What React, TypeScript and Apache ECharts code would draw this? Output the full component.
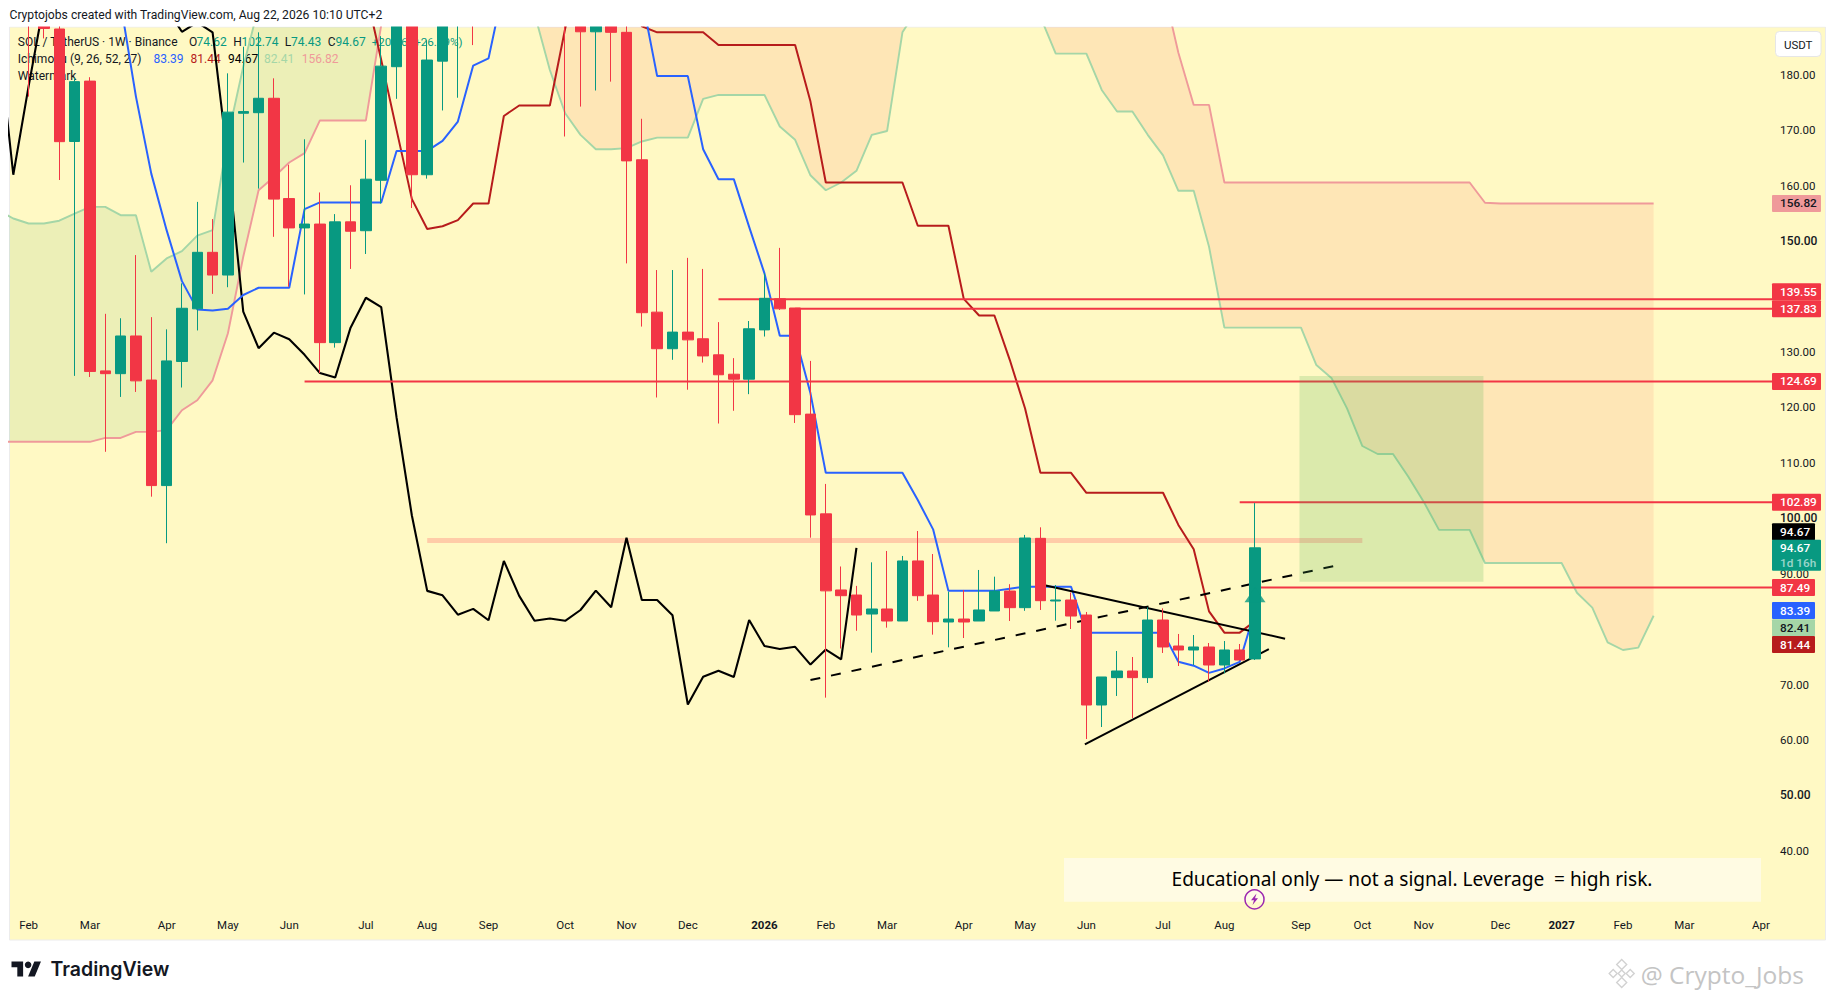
import React, { useEffect, useRef } from "react";
import * as echarts from "echarts";

// ---------- data (x = week index, 0 = 27 Jan 2025, last candle = 81) ----------
const candleOpen = [210,195,195,188.3,168,178.9,126.6,126.1,132.9,124.95,105.9,128.3,137.8,148,143.9,173.1,173.2,175.8,157.7,152.4,153.1,131.7,153.5,151.9,161,181.5,195,162,182.5,193,198,191,200,205,210,207,200,192,187.8,189.5,187.7,164.7,137.2,130.6,133.6,132.4,129.5,126,125.1,134,139.6,137.95,118.8,100.8,87.06,86.15,82.72,83.63,81.46,92.3,86.15,81.28,81.82,81.46,83.27,86.87,83.87,96.38,85.07,85.25,82.54,66.3,71.24,72.44,71.24,81.64,76.95,76.23,76.77,73.52,76.23,74.62];
const candleClose = [195,189.5,188.4,167.97,178.8,126.5,126.1,132.9,124.8,105.9,128.4,137.9,148,143.9,173.3,173.4,175.8,157.6,152.4,153.1,131.7,153.5,151.8,161.2,181.6,195,162,182.7,193,198,191,200,205,210,207,200,192,187.8,189.5,187.7,164.5,137.1,130.6,133.6,132.2,129.3,125.9,125.1,134.2,139.7,137.8,118.7,100.6,86.9,86.03,82.54,83.63,81.46,92.3,86.03,81.34,81.82,81.28,83.45,86.87,83.87,96.44,85.13,85.25,82.36,66.3,71.36,72.44,71.24,81.64,76.77,76.23,76.77,73.52,76.23,74.42,94.67];
const candleLow = [190,176.1,186.6,161.05,125.7,125.5,112,121.9,122.8,103.9,95.5,123.6,133.9,140.5,141.7,164.2,159.5,150.8,141.8,140.4,126.2,130.8,145,147.7,156.8,175.7,156,161.3,173.6,175.9,185.4,189,192,198,200,192,168.9,174.3,177.2,178.8,146,134.6,121.8,128.6,123.2,128.1,117.1,119.4,122.4,132.8,137.6,117.2,96.5,67.63,76.5,79.7,75.75,80.26,81.46,85.1,79,76.71,78.39,81.46,83.27,81.46,83.3,83.45,81.52,80.02,60.16,62.33,67.93,63.96,70.27,75.69,73.34,73.52,70.51,72.02,74.42,74.43];
const candleHigh = [215,198,200,190,179.5,179.6,136.9,136.1,147.5,136.3,134.1,142.4,157.1,154,180.3,185.1,187.7,179.4,163.8,168.4,158.8,154.9,160.1,168.3,187,200,200,186.3,198,203,205,207,212,218,220,215,205,195,192,190,190,172.1,144.8,144.8,147,145,135.4,128.9,135.6,144.2,148.8,137.95,128.4,106.2,91.3,87.8,92.05,94.1,93.2,97.7,93.55,86.75,87.06,90.67,89.46,88.1,97,98.37,87.96,86.6,83.09,71.36,76.05,74.96,83.93,83.75,79.12,78.93,77.49,77.85,77.31,102.74];

const tenkanStart = 6;
const tenkanValues = [205,193,176.1,162.2,152,142.8,137.7,137.5,137.8,140.3,141.6,141.6,141.6,155.8,157,157,157,157,157,166.3,166.3,166.3,168.1,171.6,181.7,183,196,205,210,215,218,218,218,210,198,194,179.8,179.8,179.8,166.6,161.2,161.2,152.6,144.2,132.95,132.95,122.55,108.2,108.2,108.2,108.2,108.2,108.2,103.3,98,86.9,86.9,86.9,86.9,87.3,87.65,87.65,87.65,87.65,79.36,79.36,79.36,79.36,79.36,79.36,74.1,73.4,72.1,72.9,74.1,83.39];

const kijunStart = 22;
const kijunValues = [205,195,182.7,170.1,157.6,152.2,152.7,153.8,156.8,156.8,172.6,174.5,174.5,174.5,188.4,200,205,200,196,188.8,187.7,187.7,187.7,187.7,185.4,185.4,185.4,185.4,185.4,185.4,175.2,160.6,160.6,160.6,160.6,160.6,160.6,152.8,152.8,152.8,139.6,136.6,136.6,128.6,119.8,108.2,108.2,108.2,104.6,104.6,104.6,104.6,104.6,104.6,98.8,94.4,83.2,79.36,79.36,81.44];

const lagStart = -1;
const lagValues = [187.5,162,178,193,198,191,200,205,210,207,200,192,187.8,189.5,187.7,164.5,137.3,130.7,133.5,132.3,129.5,126.2,125.4,134.4,139.8,138.1,118.2,100.5,86.9,86.1,82.6,83.65,81.6,92.3,86,81.5,81.9,81.5,83.45,86.95,83.93,96.5,85.25,85.25,82.5,66.4,71.4,72.5,71.35,81.64,76.95,76.4,76.8,73.6,76.3,74.55,94.67];

const leadStart = -1;
const leadAValues = [155.6,154.1,153.2,153.2,153.7,155,156.2,156.2,154.7,154.7,144.5,146.9,148.2,151,152,168.9,181.5,192.3,200,205,205,205,205,205,205,205,205,203,200,200,200,200,200,198,196,191.1,180.9,173.1,169.2,166.6,166.6,166.8,168,168.7,168.7,168.7,175.7,176.4,176.4,176.4,176.4,170.7,168.3,161.9,159.2,160.6,162.7,169.2,169.9,187.7,192,200,200,200,200,200,200,197,190.5,183.85,183.85,183.85,177.3,173.4,173.4,169.2,165.5,159.1,159.1,149,134.4,134.4,134.4,134.4,134.4,134.4,127.66,125.26,119.84,113.04,111.6,111.6,107.5,103,97.9,97.9,97.9,91.93,91.93,91.93,91.93,91.93,91.93,86.57,83.87,77.61,76.23,76.65,82.41];
const leadBValues = [113.8,113.8,113.8,113.8,113.8,113.8,113.8,114.5,114.5,115.6,115.6,115.9,119.5,121.3,124.9,133.4,147.2,159.2,161.6,164.2,165.9,171.8,171.8,171.8,171.8,189,195,198,200,202,205,205,215,215,215,215,215,215,215,215,215,215,215,215,215,215,215,215,215,215,215,215,215,215,215,215,215,215,215,215,215,215,215,215,215,215,215,215,215,215,215,215,215,215,215,215,196,184,174.6,174.6,160.6,160.6,160.6,160.6,160.6,160.6,160.6,160.6,160.6,160.6,160.6,160.6,160.6,160.6,160.6,160.6,160.6,156.95,156.82,156.82,156.82,156.82,156.82,156.82,156.82,156.82,156.82,156.82,156.82];

// horizontal levels: [first week index, price]
const levelStarts = [46, 51, 19, 80, 81];
const levelPrices = [139.55, 137.83, 124.69, 102.89, 87.49];
const zoneLine = [[27, 96], [88, 96]];
const boxCorners = [83.9, 125.7, 95.9, 88.55];
const fallingTrend = [[67.2, 87.96], [82.96, 78.27]];
const risingTrend = [[69.9, 59.2], [81.9, 76.4]];
const dashedTrend = [[52, 70.8], [86.1, 91.35]];
const arrowPoint = [81, 86.2];

const monthTickIndex = [1,5,10,14,18,23,27,31,36,40,44,49,53,57,62,66,70,75,79,84,88,92,97,101,105,109,114];
const monthTickLabels = ["Feb","Mar","Apr","May","Jun","Jul","Aug","Sep","Oct","Nov","Dec","2026","Feb","Mar","Apr","May","Jun","Jul","Aug","Sep","Oct","Nov","Dec","2027","Feb","Mar","Apr"];
const coveredTicks = [140, 80];

const pillPrices = [156.82, 139.55, 137.83, 124.69, 102.89, 94.67, 94.67, 87.49, 83.39, 82.41, 81.44];
const pillTexts = ["156.82", "139.55", "137.83", "124.69", "102.89", "94.67", "94.67", "87.49", "83.39", "82.41", "81.44"];

// ---------- styles ----------
const FONT = "Roboto, sans-serif";
const INK = "#131722";
const UP = "#089981";
const DOWN = "#F23645";
const BLUE = "#2962FF";
const MAROON = "#B71C1C";
const LEAD_A = "#A5D6A7";
const LEAD_B = "#EF9A9A";
const PANE = "#FFF9C4";
const pillStyle = [
  { bg: LEAD_B, fg: INK, w: 49, dy: 0 },
  { bg: DOWN, fg: "#fff", w: 49, dy: -7.3 },
  { bg: DOWN, fg: "#fff", w: 49, dy: 0 },
  { bg: DOWN, fg: "#fff", w: 49, dy: 0 },
  { bg: DOWN, fg: "#fff", w: 49, dy: 0 },
  { bg: "#000", fg: "#fff", w: 43, dy: -16.1 },
  { bg: UP, fg: "#fff", w: 49, dy: 0.5 },
  { bg: DOWN, fg: "#fff", w: 43, dy: 0 },
  { bg: BLUE, fg: "#fff", w: 43, dy: 0.3 },
  { bg: LEAD_A, fg: INK, w: 43, dy: 12 },
  { bg: MAROON, fg: "#fff", w: 43, dy: 23.4 },
];

const GRID = { left: 9.5, right: 1771, top: 27, bottom: 906.15 };
const X_ZERO = 13.3;
const X_STEP = 15.33;
const xMin = (GRID.left - X_ZERO) / X_STEP;
const xMax = (GRID.right - X_ZERO) / X_STEP;
const yMin = 30;
const yMax = 188.663;

const pairs = (start: number, values: number[]) => values.map((v, k) => [start + k, v]);

// Splits the two lead lines into runs of one colour, with a closed outline per run.
function cloudRuns() {
  const runs: { up: boolean; pts: number[][] }[] = [];
  let upper: number[][] = [];
  let lower: number[][] = [];
  let up = leadAValues[0] >= leadBValues[0];
  const flush = () => {
    runs.push({ up, pts: [...upper, ...lower.slice().reverse()] });
    upper = [];
    lower = [];
  };
  for (let k = 0; k < leadAValues.length; k++) {
    const x = leadStart + k;
    const a = leadAValues[k];
    const b = leadBValues[k];
    const nowUp = a >= b;
    if (nowUp !== up) {
      const a0 = leadAValues[k - 1];
      const b0 = leadBValues[k - 1];
      const t = (b0 - a0) / (a - a0 - (b - b0));
      const cx = x - 1 + t;
      const cy = a0 + (a - a0) * t;
      upper.push([cx, cy]);
      lower.push([cx, cy]);
      flush();
      up = nowUp;
      upper.push([cx, cy]);
      lower.push([cx, cy]);
    }
    upper.push([x, a]);
    lower.push([x, b]);
  }
  flush();
  return runs;
}

const lineSeries = (data: number[][], color: string, width: number, extra: any = {}) => ({
  type: "line",
  data,
  symbol: "none",
  showSymbol: false,
  silent: true,
  z: 2,
  lineStyle: { color, width, ...(extra.lineStyle || {}) },
});

function txt(text: string, x: number, y: number, fill: string, z: number, font = `12px ${FONT}`, align = "left") {
  return { type: "text", x, y, z, silent: true, style: { text, fill, font, textAlign: align, textVerticalAlign: "middle" } };
}

function staticGraphics() {
  const els: any[] = [
    { type: "rect", z: 0, silent: true, shape: { x: 9.5, y: 27, width: 1816, height: 913 }, style: { fill: PANE, stroke: "#ECECEC", lineWidth: 1 } },
    // white header band: hides the parts of tall candles above the pane
    { type: "rect", z: 20, silent: true, shape: { x: 0, y: 0, width: 1835, height: 26.5 }, style: { fill: "#fff" } },
    txt("Cryptojobs created with TradingView.com, Aug 22, 2026 10:10 UTC+2", 9.5, 15, INK, 50, `12.15px ${FONT}`),
    // legend, underneath the candles
    txt("SOL / TetherUS · 1W · Binance", 17.8, 42, INK, 1.5),
    txt("O", 189, 42, INK, 1.5), txt("74.62", 196.5, 42, UP, 1.5),
    txt("H", 233.3, 42, INK, 1.5), txt("102.74", 241.5, 42, UP, 1.5),
    txt("L", 284.7, 42, INK, 1.5), txt("74.43", 291, 42, UP, 1.5),
    txt("C", 327.8, 42, INK, 1.5), txt("94.67", 335.5, 42, UP, 1.5),
    txt("+20.06 (+26.89%)", 371.7, 42, UP, 1.5, `11.6px ${FONT}`),
    txt("Ichimoku (9, 26, 52, 27)", 17.8, 59, INK, 1.5),
    txt("83.39", 153.4, 59, BLUE, 1.5),
    txt("81.44", 190.6, 59, MAROON, 1.5),
    txt("94.67", 228, 59, "#000", 1.5),
    txt("82.41", 264, 59, LEAD_A, 1.5),
    txt("156.82", 301.7, 59, LEAD_B, 1.5),
    txt("Watermark", 17.8, 76, INK, 1.5),
    // currency button
    { type: "rect", z: 50, silent: true, shape: { x: 1775.5, y: 31.5, width: 45.5, height: 25, r: 4 }, style: { fill: "#fff", stroke: "#E6E6E6", lineWidth: 1 } },
    txt("USDT", 1798.2, 44.5, INK, 51, `11.5px ${FONT}`, "center"),
    // disclaimer box
    { type: "rect", z: 40, silent: true, shape: { x: 1064, y: 858, width: 697, height: 43.7 }, style: { fill: "#FFFBE3" } },
    txt("Educational only — not a signal. Leverage  = high risk.", 1412, 879, "#000", 41, '19.1px "Noto Sans", sans-serif', "center"),
    // lightning badge
    { type: "circle", z: 42, silent: true, shape: { cx: 1254.5, cy: 899.3, r: 9.5 }, style: { fill: "rgba(255,255,255,0.15)", stroke: "#9C27B0", lineWidth: 1.5 } },
    { type: "polygon", z: 43, silent: true, shape: { points: [[1256.5, 893.5], [1251, 900.3], [1254, 900.3], [1252.5, 905], [1258, 898.3], [1255, 898.3]] }, style: { fill: "#9C27B0" } },
    // footer logo
    { type: "tvMark", z: 50, silent: true, x: 11.5, y: 958.2, scaleX: 0.83, scaleY: 0.83, style: { fill: "#131722" } },
    { type: "circle", z: 50, silent: true, shape: { cx: 28.1, cy: 964.8, r: 3.3 }, style: { fill: "#131722" } },
    txt("TradingView", 50.5, 968.5, "#131722", 50, "600 19.5px Inter, sans-serif"),
    // watermark
    txt("@ Crypto_Jobs", 1640.7, 974, "#C4C4C4", 50, '24.5px "Open Sans", sans-serif'),
  ];
  const c = [1621.7, 973.5];
  const diamonds = [[0, -9, 5], [-8.5, 0, 4], [8.5, 0, 4], [0, 9, 5], [0, 0, 3.5]];
  diamonds.forEach(([dx, dy, r]) => {
    const cx = c[0] + dx;
    const cy = c[1] + dy;
    els.push({ type: "polygon", z: 50, silent: true, shape: { points: [[cx, cy - r], [cx + r, cy], [cx, cy + r], [cx - r, cy]] }, style: { fill: "#fff", stroke: "#D2D2D2", lineWidth: 1.4 } });
  });
  return els;
}

function pillGraphics(chart: any) {
  const els: any[] = [];
  pillPrices.forEach((price, k) => {
    const st = pillStyle[k];
    const cy = chart.convertToPixel({ yAxisIndex: 0 }, price) + st.dy;
    const isCountdown = k === 6;
    els.push({ type: "rect", z: 60, silent: true, shape: { x: 1772, y: cy - 8.5, width: st.w, height: isCountdown ? 31 : 17, r: 1 }, style: { fill: st.bg } });
    els.push(txt(pillTexts[k], 1780, cy, st.fg, 61, `500 11.8px ${FONT}`));
    if (isCountdown) els.push(txt("1d 16h", 1780, cy + 14.5, "rgba(255,255,255,0.6)", 61, `500 11.8px ${FONT}`));
  });
  return els;
}

export default function App() {
  const ref = useRef<HTMLDivElement>(null);
  useEffect(() => {
    if (!ref.current) return;
    echarts.graphic.registerShape("tvMark", echarts.graphic.extendPath("M14 22H7V11H0V4h14v18zM28 22h-8l7.5-18h8L28 22z", {}));
    const chart = echarts.init(ref.current, undefined, { renderer: "svg" });
    const runs = cloudRuns();
    const candles = candleOpen.map((o, i) => [i, o, candleClose[i], candleLow[i], candleHigh[i]]);
    const rightEnd = Math.ceil(xMax) + 1;
    const option: any = {
      animation: false,
      backgroundColor: "#fff",
      grid: { left: GRID.left, top: GRID.top, right: 1835 - GRID.right, bottom: 1000 - GRID.bottom, containLabel: false },
      xAxis: {
        type: "value",
        min: xMin,
        max: xMax,
        splitLine: { show: false },
        axisLine: { show: false },
        axisTick: { show: false },
        axisLabel: {
          customValues: monthTickIndex,
          margin: 13,
          color: INK,
          fontFamily: FONT,
          fontSize: 11.5,
          formatter: (v: number) => {
            const l = monthTickLabels[monthTickIndex.indexOf(v)] ?? "";
            return /^\d+$/.test(l) ? `{y|${l}}` : l;
          },
          rich: { y: { fontFamily: FONT, fontSize: 11.5, fontWeight: 700, color: INK } },
        },
      },
      yAxis: {
        type: "value",
        position: "right",
        min: yMin,
        max: yMax,
        interval: 10,
        splitLine: { show: false },
        axisLine: { show: false },
        axisTick: { show: false },
        axisLabel: {
          margin: 9,
          showMinLabel: false,
          showMaxLabel: false,
          color: INK,
          fontFamily: FONT,
          fontSize: 11.5,
          formatter: (v: number) => (coveredTicks.includes(v) ? "" : v % 50 === 0 ? `{m|${v.toFixed(2)}}` : v.toFixed(2)),
          rich: { m: { fontFamily: FONT, fontSize: 12, fontWeight: 500, color: INK } },
        },
      },
      series: [
        {
          type: "custom",
          z: 1,
          silent: true,
          clip: true,
          data: runs.map((r, k) => [r.pts[0][0], r.pts[0][1], k]),
          encode: { x: 0, y: 1 },
          renderItem: (params: any, api: any) => {
            const run = runs[params.dataIndex];
            return {
              type: "polygon",
              shape: { points: run.pts.map((p) => api.coord(p)) },
              style: { fill: run.up ? "rgba(67,160,71,0.1)" : "rgba(244,67,54,0.1)" },
            };
          },
        },
        lineSeries(pairs(leadStart, leadAValues), LEAD_A, 1.9),
        lineSeries(pairs(leadStart, leadBValues), LEAD_B, 1.9),
        lineSeries(zoneLine, "#FFCCA8", 5),
        lineSeries(pairs(lagStart, lagValues), "#000000", 2.1),
        lineSeries(pairs(kijunStart, kijunValues), MAROON, 2),
        lineSeries(pairs(tenkanStart, tenkanValues), BLUE, 2),
        ...levelPrices.map((p, k) => lineSeries([[levelStarts[k], p], [rightEnd, p]], DOWN, 2)),
        lineSeries(fallingTrend, "#000", 2),
        lineSeries(risingTrend, "#000", 2),
        lineSeries(dashedTrend, "#000", 2, { lineStyle: { type: [10, 11] } }),
        {
          type: "candlestick",
          z: 3,
          silent: true,
          barWidth: 11,
          data: candles,
          encode: { x: 0, y: [1, 2, 3, 4] },
          itemStyle: { color: UP, color0: DOWN, borderColor: UP, borderColor0: DOWN, borderWidth: 1 },
        },
        {
          type: "scatter",
          z: 4,
          silent: true,
          data: [arrowPoint],
          symbol: "triangle",
          symbolSize: [21, 15],
          itemStyle: { color: UP },
        },
        {
          type: "custom",
          z: 5,
          silent: true,
          data: [boxCorners],
          encode: { x: [0, 2], y: [1, 3] },
          renderItem: (_p: any, api: any) => {
            const a = api.coord([api.value(0), api.value(1)]);
            const b = api.coord([api.value(2), api.value(3)]);
            return { type: "rect", shape: { x: a[0], y: a[1], width: b[0] - a[0], height: b[1] - a[1] }, style: { fill: "rgba(76,175,80,0.2)" } };
          },
        },
      ],
      graphic: { elements: staticGraphics() },
    };
    chart.setOption(option);
    chart.setOption({ graphic: { elements: [...staticGraphics(), ...pillGraphics(chart)] } }, { replaceMerge: ["graphic"] });
    return () => chart.dispose();
  }, []);
  return <div ref={ref} style={{ position: "fixed", left: 0, top: 0, width: 1835, height: 1000 }} />;
}
